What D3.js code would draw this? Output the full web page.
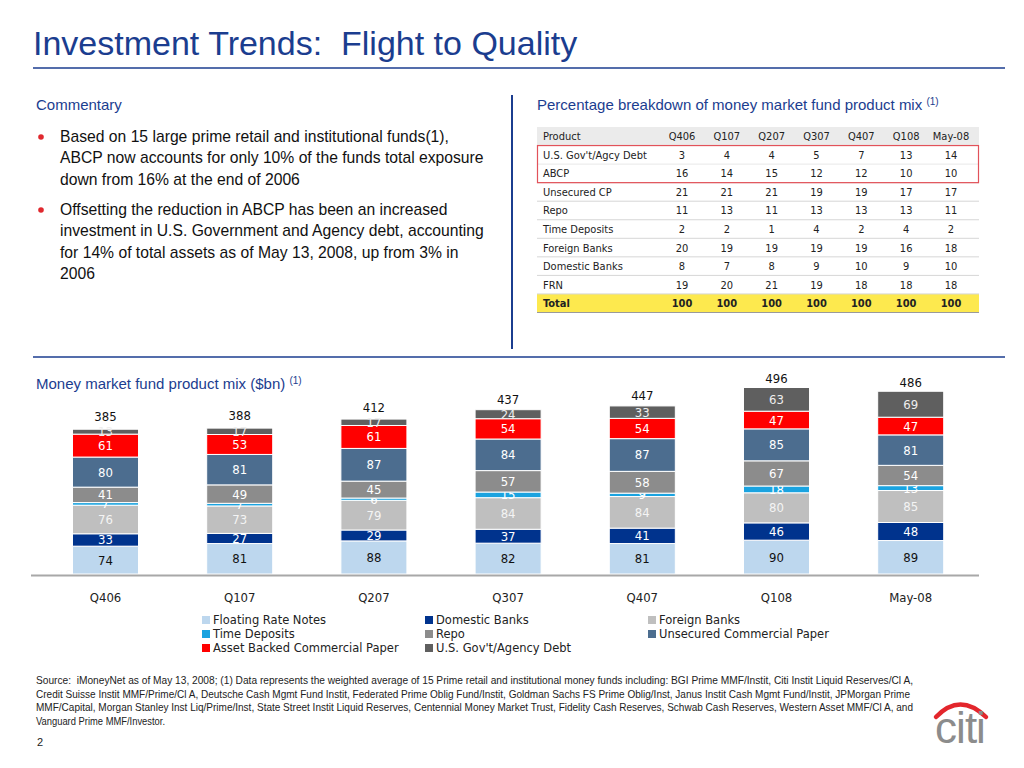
<!DOCTYPE html>
<html>
<head>
<meta charset="utf-8">
<script src="https://cdn.jsdelivr.net/npm/d3@7"></script>
<style>
  body { margin: 0; background: #fff; }
  svg { display: block; font-family: "Liberation Sans", Arial, sans-serif; }
</style>
</head>
<body>
<div id="page"></div>
<script>
var W = 1024, H = 768;

// chart data ($bn)
var quarters = ["Q406", "Q107", "Q207", "Q307", "Q407", "Q108", "May-08"];
var seriesNames = ["Floating Rate Notes", "Domestic Banks", "Foreign Banks", "Time Deposits",
                   "Repo", "Unsecured Commercial Paper", "Asset Backed Commercial Paper", "U.S. Gov't/Agency Debt"];
var frn       = [74, 81, 88, 82, 81, 90, 89];
var domestic  = [33, 27, 29, 37, 41, 46, 48];
var foreign   = [76, 73, 79, 84, 84, 80, 85];
var timeDep   = [7, 7, 6, 15, 9, 18, 13];
var repo      = [41, 49, 45, 57, 58, 67, 54];
var unsecured = [80, 81, 87, 84, 87, 85, 81];
var abcp      = [61, 53, 61, 54, 54, 47, 47];
var govt      = [13, 17, 17, 24, 33, 63, 69];
var totals    = [385, 388, 412, 437, 447, 496, 486];

// table data (%)
var tableProducts = ["U.S. Gov't/Agcy Debt", "ABCP", "Unsecured CP", "Repo", "Time Deposits", "Foreign Banks", "Domestic Banks", "FRN"];
var pctGovt      = [3, 4, 4, 5, 7, 13, 14];
var pctAbcp      = [16, 14, 15, 12, 12, 10, 10];
var pctUnsecured = [21, 21, 21, 19, 19, 17, 17];
var pctRepo      = [11, 13, 11, 13, 13, 13, 11];
var pctTimeDep   = [2, 2, 1, 4, 2, 4, 2];
var pctForeign   = [20, 19, 19, 19, 19, 16, 18];
var pctDomestic  = [8, 7, 8, 9, 10, 9, 10];
var pctFrn       = [19, 20, 21, 19, 18, 18, 18];
var pctTotal     = [100, 100, 100, 100, 100, 100, 100];

var colors = ["#bdd7ee", "#00338d", "#bfbfbf", "#1aa3e0", "#8c8c8c", "#4c6d8f", "#ff0000", "#5f5f5f"];
var labelColors = ["#111", "#fff", "#f4f4f4", "#fff", "#fff", "#fff", "#fff", "#eee"];
var navy = "#1b3d8f";
var narrow = '"Liberation Sans Narrow", "Arial Narrow", "DejaVu Sans Condensed", sans-serif';

var svg = d3.select("#page").append("svg")
  .attr("width", W)
  .attr("height", H);

////////// header //////////
svg.append("text")
  .attr("x", 33).attr("y", 55)
  .attr("font-size", "34px")
  .attr("fill", navy)
  .attr("xml:space", "preserve")
  .text("Investment Trends:  Flight to Quality");

svg.append("line")
  .attr("x1", 33).attr("x2", 1005).attr("y1", 68).attr("y2", 68)
  .attr("stroke", navy).attr("stroke-width", 1.5);

svg.append("line")
  .attr("x1", 512).attr("x2", 512).attr("y1", 95).attr("y2", 349)
  .attr("stroke", navy).attr("stroke-width", 2);

svg.append("line")
  .attr("x1", 33).attr("x2", 1005).attr("y1", 357).attr("y2", 357)
  .attr("stroke", navy).attr("stroke-width", 1.5);

////////// commentary //////////
svg.append("text")
  .attr("x", 36).attr("y", 110)
  .attr("font-size", "15px")
  .attr("fill", navy)
  .text("Commentary");

var bullets = [
  ["Based on 15 large prime retail and institutional funds(1),",
   "ABCP now accounts for only 10% of the funds total exposure",
   "down from 16% at the end of 2006"],
  ["Offsetting the reduction in ABCP has been an increased",
   "investment in U.S. Government and Agency debt, accounting",
   "for 14% of total assets as of May 13, 2008, up from 3% in",
   "2006"]
];
var bulletTop = [142, 215];
bullets.forEach(function(lines, b) {
  svg.append("circle")
    .attr("cx", 41).attr("cy", bulletTop[b] - 5).attr("r", 2.8)
    .attr("fill", "#e0282e");
  lines.forEach(function(t, i) {
    svg.append("text")
      .attr("x", 60).attr("y", bulletTop[b] + i * 21.3)
      .attr("font-size", "15.7px")
      .attr("fill", "#111")
      .text(t);
  });
});

////////// table //////////
var tTitle = svg.append("text")
  .attr("x", 537).attr("y", 110)
  .attr("font-size", "15px")
  .attr("fill", navy)
  .text("Percentage breakdown of money market fund product mix ");
tTitle.append("tspan").attr("font-size", "10px").attr("dy", -5).text("(1)");

var tableRows = [pctGovt, pctAbcp, pctUnsecured, pctRepo, pctTimeDep, pctForeign, pctDomestic, pctFrn];
var rowKeys = ["Product"].concat(tableProducts).concat(["Total"]);
var rowY = d3.scaleBand().domain(rowKeys).range([127, 312.5]);
var colX = d3.scalePoint().domain(quarters).range([682, 951]);
var tLeft = 537, tRight = 979;

var table = svg.append("g").attr("font-family", '"DejaVu Sans Condensed", "DejaVu Sans", sans-serif')
  .attr("font-size", "11px").attr("fill", "#222");

table.append("rect")
  .attr("x", tLeft).attr("y", rowY("Product"))
  .attr("width", tRight - tLeft).attr("height", rowY.bandwidth())
  .attr("fill", "#ebebeb");
table.append("rect")
  .attr("x", tLeft).attr("y", rowY("Total"))
  .attr("width", tRight - tLeft).attr("height", rowY.bandwidth())
  .attr("fill", "#fde94e");

// row separators
table.selectAll("line.sep")
  .data(tableProducts.slice(2).concat(["Total"]))
  .enter().append("line")
  .attr("x1", tLeft).attr("x2", tRight)
  .attr("y1", function(d) { return rowY(d); })
  .attr("y2", function(d) { return rowY(d); })
  .attr("stroke", "#d6d6d6").attr("stroke-width", 1);
table.append("line")
  .attr("x1", tLeft).attr("x2", tRight)
  .attr("y1", rowY("U.S. Gov't/Agcy Debt") + rowY.bandwidth())
  .attr("y2", rowY("U.S. Gov't/Agcy Debt") + rowY.bandwidth())
  .attr("stroke", "#e8e8e8");
table.append("line")
  .attr("x1", tLeft).attr("x2", tRight)
  .attr("y1", rowY("Total") + rowY.bandwidth()).attr("y2", rowY("Total") + rowY.bandwidth())
  .attr("stroke", "#9a9a9a").attr("stroke-width", 1);

// header
table.append("text")
  .attr("x", 543).attr("y", rowY("Product") + rowY.bandwidth() / 2 + 4)
  .text("Product");
table.selectAll("text.hdr")
  .data(quarters).enter().append("text")
  .attr("x", function(d) { return colX(d); })
  .attr("y", rowY("Product") + rowY.bandwidth() / 2 + 4)
  .attr("text-anchor", "middle")
  .text(function(d) { return d; });

tableProducts.forEach(function(p, r) {
  var yy = rowY(p) + rowY.bandwidth() / 2 + 4;
  table.append("text").attr("x", 543).attr("y", yy).text(p);
  table.selectAll(null).data(tableRows[r]).enter().append("text")
    .attr("x", function(d, i) { return colX(quarters[i]); })
    .attr("y", yy)
    .attr("text-anchor", "middle")
    .text(function(d) { return d; });
});

var totY = rowY("Total") + rowY.bandwidth() / 2 + 4;
table.append("text").attr("x", 543).attr("y", totY).attr("font-weight", "bold").text("Total");
table.selectAll(null).data(pctTotal).enter().append("text")
  .attr("x", function(d, i) { return colX(quarters[i]); })
  .attr("y", totY)
  .attr("text-anchor", "middle")
  .attr("font-weight", "bold")
  .text(function(d) { return d; });

// red highlight box around Gov't and ABCP rows
table.append("rect")
  .attr("x", tLeft + 0.5).attr("y", rowY("U.S. Gov't/Agcy Debt"))
  .attr("width", tRight - tLeft - 1).attr("height", rowY.bandwidth() * 2)
  .attr("fill", "none")
  .attr("stroke", "#e2525a").attr("stroke-width", 1.2);

////////// stacked bar chart //////////
var cTitle = svg.append("text")
  .attr("x", 36).attr("y", 389)
  .attr("font-size", "15px")
  .attr("fill", navy)
  .text("Money market fund product mix ($bn) ");
cTitle.append("tspan").attr("font-size", "10px").attr("dy", -5).text("(1)");

var seriesValues = [frn, domestic, foreign, timeDep, repo, unsecured, abcp, govt];
var rows = quarters.map(function(q, i) {
  var o = { quarter: q, total: totals[i] };
  seriesNames.forEach(function(s, k) { o[s] = seriesValues[k][i]; });
  return o;
});
var stack = d3.stack().keys(seriesNames)(rows);

var x = d3.scaleBand()
  .domain(quarters)
  .range([38.4, 977.8])
  .paddingInner(0.508)
  .paddingOuter(0.254);

var y = d3.scaleLinear().domain([0, 500]).range([574, 386]);
// total labels sit a bit above the bars, closer for the taller bars
var yTot = d3.scaleLinear().domain([0, 500]).range([548.5, 377.5]);

var layers = svg.selectAll("g.layer")
  .data(stack)
  .enter().append("g")
  .attr("class", "layer")
  .attr("fill", function(d, i) { return colors[i]; });

layers.selectAll("rect")
  .data(function(d) { return d; })
  .enter().append("rect")
  .attr("x", function(d) { return x(d.data.quarter); })
  .attr("width", x.bandwidth())
  .attr("y", function(d) { return y(d[1]); })
  .attr("height", function(d) { return y(d[0]) - y(d[1]); })
  .attr("stroke", "#fff")
  .attr("stroke-width", 1);

layers.selectAll("text")
  .data(function(d) { return d; })
  .enter().append("text")
  .attr("x", function(d) { return x(d.data.quarter) + x.bandwidth() / 2; })
  .attr("y", function(d) { return (y(d[0]) + y(d[1])) / 2 + 4.5; })
  .attr("text-anchor", "middle")
  .attr("font-family", narrow)
  .attr("font-size", "13px")
  .attr("fill", function() { return labelColors[seriesNames.indexOf(this.parentNode.__data__.key)]; })
  .text(function(d) { return d[1] - d[0]; });

svg.selectAll("text.total")
  .data(rows)
  .enter().append("text")
  .attr("class", "total")
  .attr("x", function(d) { return x(d.quarter) + x.bandwidth() / 2; })
  .attr("y", function(d) { return yTot(d.total) + 4.5; })
  .attr("text-anchor", "middle")
  .attr("font-family", narrow)
  .attr("font-size", "13px")
  .attr("fill", "#111")
  .text(function(d) { return d.total; });

// base line and category axis
svg.append("line")
  .attr("x1", 31).attr("x2", 979).attr("y1", 575.5).attr("y2", 575.5)
  .attr("stroke", "#a8a8a8").attr("stroke-width", 2);

var xAxis = svg.append("g")
  .attr("transform", "translate(0,590)")
  .call(d3.axisBottom(x).tickSize(0).tickPadding(0));
xAxis.select(".domain").remove();
xAxis.selectAll("text")
  .attr("dy", "0.9em")
  .attr("font-family", narrow)
  .attr("font-size", "13px")
  .attr("fill", "#222");

// legend
var legendX = d3.scalePoint().domain([0, 1, 2]).range([202, 648]);
var legendY = d3.scalePoint().domain([0, 1, 2]).range([620, 648]);
var legend = svg.append("g")
  .attr("font-family", '"DejaVu Sans", sans-serif')
  .attr("font-size", "11.5px")
  .attr("fill", "#222");
legend.selectAll("rect")
  .data(seriesNames)
  .enter().append("rect")
  .attr("x", function(d, i) { return legendX(i % 3); })
  .attr("y", function(d, i) { return legendY(Math.floor(i / 3)) - 4; })
  .attr("width", 8).attr("height", 8)
  .style("fill", function(d, i) { return colors[i]; });
legend.selectAll("text")
  .data(seriesNames)
  .enter().append("text")
  .attr("x", function(d, i) { return legendX(i % 3) + 11; })
  .attr("y", function(d, i) { return legendY(Math.floor(i / 3)) + 4; })
  .text(function(d) { return d; });

////////// footnote //////////
var foot = [
  "Source:  iMoneyNet as of May 13, 2008; (1) Data represents the weighted average of 15 Prime retail and institutional money funds including: BGI Prime MMF/Instit, Citi Instit Liquid Reserves/Cl A,",
  "Credit Suisse Instit MMF/Prime/Cl A, Deutsche Cash Mgmt Fund Instit, Federated Prime Oblig Fund/Instit, Goldman Sachs FS Prime Oblig/Inst, Janus Instit Cash Mgmt Fund/Instit, JPMorgan Prime",
  "MMF/Capital, Morgan Stanley Inst Liq/Prime/Inst, State Street Instit Liquid Reserves, Centennial Money Market Trust, Fidelity Cash Reserves, Schwab Cash Reserves, Western Asset MMF/Cl A, and",
  "Vanguard Prime MMF/Investor."
];
var footWidths = [877, 874, 877, null];
foot.forEach(function(t, i) {
  var ft = svg.append("text")
    .attr("x", 36).attr("y", 684 + i * 13.7)
    .attr("font-size", "10.5px")
    .attr("fill", "#222")
    .attr("xml:space", "preserve")
    .text(t);
  if (footWidths[i]) ft.attr("textLength", footWidths[i]).attr("lengthAdjust", "spacingAndGlyphs");
  else ft.attr("textLength", 129).attr("lengthAdjust", "spacingAndGlyphs");
});

svg.append("text")
  .attr("x", 37).attr("y", 746)
  .attr("font-size", "11px")
  .attr("fill", "#222")
  .text("2");

// citi logo
svg.append("path")
  .attr("d", "M936,717 Q960,692 986,717")
  .attr("fill", "none")
  .attr("stroke", "#e3262c")
  .attr("stroke-width", 4.5)
  .attr("stroke-linecap", "round");
svg.append("text")
  .attr("x", 960).attr("y", 743)
  .attr("text-anchor", "middle")
  .attr("font-size", "44px")
  .attr("letter-spacing", "-1px")
  .attr("fill", "#8c8c8c")
  .text("citi");
</script>
</body>
</html>
